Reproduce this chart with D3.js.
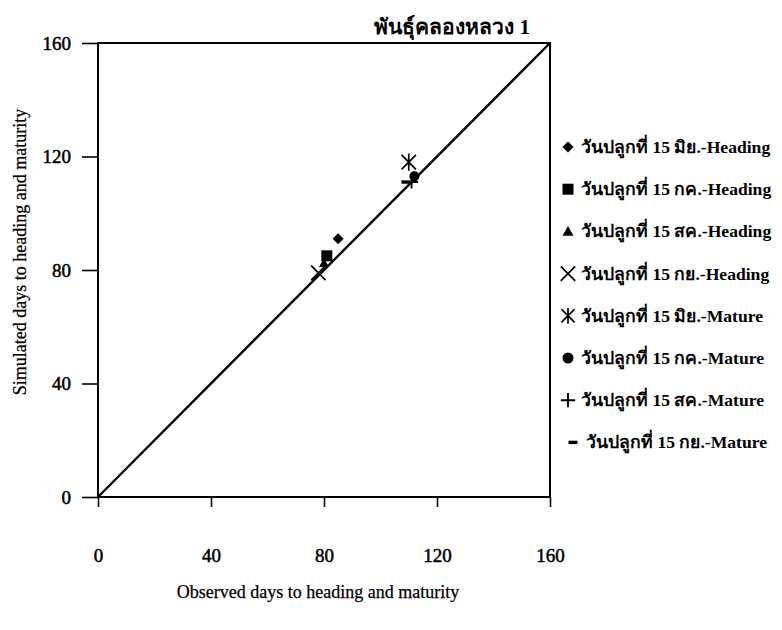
<!DOCTYPE html>
<html>
<head>
<meta charset="utf-8">
<script src="https://cdn.jsdelivr.net/npm/d3@7"></script>
<style>
  html, body { margin: 0; padding: 0; background: #fff; }
  svg { display: block; font-family: "Liberation Serif", "Times New Roman", serif; }
</style>
</head>
<body>
<svg id="chart" width="782" height="630"></svg>
<script>
// Planting-date series: observed vs simulated days to heading / maturity
const seriesNames = [
  "วันปลูกที่ 15 มิย.-Heading",
  "วันปลูกที่ 15 กค.-Heading",
  "วันปลูกที่ 15 สค.-Heading",
  "วันปลูกที่ 15 กย.-Heading",
  "วันปลูกที่ 15 มิย.-Mature",
  "วันปลูกที่ 15 กค.-Mature",
  "วันปลูกที่ 15 สค.-Mature",
  "วันปลูกที่ 15 กย.-Mature"
];
const observedDays  = [85, 81, 80, 78, 110, 112, 111, 109];
const simulatedDays = [91, 85, 82.5, 79, 118, 113, 111, 111];
const axisTicks = [0, 40, 80, 120, 160];
const varietyTitle = "พันธุ์คลองหลวง 1";

const markerKinds = ["diamond", "square", "triangle", "x", "asterisk", "circle", "plus", "dash"];

const FONT = "'Liberation Serif', 'Times New Roman', serif";
const svg = d3.select("#chart");
const plot = { left: 98, right: 550, top: 43, bottom: 497 };

const x = d3.scaleLinear().domain([0, 160]).range([plot.left, plot.right]);
const y = d3.scaleLinear().domain([0, 160]).range([plot.bottom, plot.top]);

// marker drawing: filled shapes and stroked line shapes
function drawMarker(g, kind, s) {
  const r = s / 2;
  if (kind === "diamond") {
    g.append("path").attr("d", `M0,${-r}L${r},0L0,${r}L${-r},0Z`).attr("fill", "#000");
  } else if (kind === "square") {
    g.append("path").attr("d", d3.symbol(d3.symbolSquare, s * s)()).attr("fill", "#000");
  } else if (kind === "triangle") {
    g.append("path").attr("d", `M0,${-r}L${r},${r * 0.8}L${-r},${r * 0.8}Z`).attr("fill", "#000");
  } else if (kind === "circle") {
    g.append("circle").attr("r", r).attr("fill", "#000");
  } else if (kind === "x") {
    const q = r * 1.2;
    g.append("path").attr("d", `M${-q},${-q}L${q},${q}M${-q},${q}L${q},${-q}`)
      .attr("stroke", "#000").attr("stroke-width", 1.7).attr("fill", "none");
  } else if (kind === "asterisk") {
    const q = r * 1.2;
    g.append("path").attr("d", `M${-q},${-q}L${q},${q}M${-q},${q}L${q},${-q}M0,${-q * 1.2}L0,${q * 1.2}`)
      .attr("stroke", "#000").attr("stroke-width", 1.7).attr("fill", "none");
  } else if (kind === "plus") {
    const q = r * 1.3;
    g.append("path").attr("d", `M${-q},0L${q},0M0,${-q}L0,${q}`)
      .attr("stroke", "#000").attr("stroke-width", 1.9).attr("fill", "none");
  } else if (kind === "dash") {
    g.append("path").attr("d", `M${-r},0L${r},0`)
      .attr("stroke", "#000").attr("stroke-width", 3.4).attr("fill", "none");
  }
}

// frame
svg.append("rect")
  .attr("x", plot.left).attr("y", plot.top)
  .attr("width", plot.right - plot.left).attr("height", plot.bottom - plot.top)
  .attr("fill", "none").attr("stroke", "#000").attr("stroke-width", 2);

// y axis
const yAxis = svg.append("g")
  .attr("transform", `translate(${plot.left},0)`)
  .call(d3.axisLeft(y).tickValues(axisTicks).tickSize(16).tickPadding(11).tickFormat(d3.format("d")));
yAxis.select(".domain").remove();
yAxis.selectAll("line").attr("stroke", "#000").attr("stroke-width", 1.6);
yAxis.selectAll("text").attr("font-size", 19)
  .attr("font-family", FONT).attr("fill", "#000")
  .attr("stroke", "#000").attr("stroke-width", 0.5);

// x axis
const xAxis = svg.append("g")
  .attr("transform", `translate(0,${plot.bottom})`)
  .call(d3.axisBottom(x).tickValues(axisTicks).tickSize(10).tickPadding(42).tickFormat(d3.format("d")));
xAxis.select(".domain").remove();
xAxis.selectAll("line").attr("stroke", "#000").attr("stroke-width", 1.6);
xAxis.selectAll("text").attr("font-size", 19)
  .attr("font-family", FONT).attr("fill", "#000")
  .attr("stroke", "#000").attr("stroke-width", 0.5);

// 1:1 line
svg.append("line")
  .attr("x1", x(0)).attr("y1", y(0)).attr("x2", x(160)).attr("y2", y(160))
  .attr("stroke", "#000").attr("stroke-width", 2.4);

// data points
const pts = svg.append("g");
seriesNames.forEach((name, i) => {
  const g = pts.append("g").attr("transform", `translate(${x(observedDays[i])},${y(simulatedDays[i])})`);
  const size = { diamond: 11, square: 11, triangle: 10, x: 12, asterisk: 12, circle: 10, plus: 10, dash: 9 }[markerKinds[i]];
  drawMarker(g, markerKinds[i], size);
});

// title
svg.append("text")
  .attr("x", 530).attr("y", 34)
  .attr("text-anchor", "end")
  .attr("font-size", 21).attr("font-weight", "bold")
  .attr("font-family", FONT)
  .text(varietyTitle);

// axis titles
svg.append("text")
  .attr("transform", `translate(26,252) rotate(-90)`)
  .attr("text-anchor", "middle")
  .attr("font-size", 18)
  .attr("font-family", FONT)
  .attr("stroke", "#000").attr("stroke-width", 0.25)
  .text("Simulated days to heading and maturity");

svg.append("text")
  .attr("x", 318).attr("y", 598)
  .attr("text-anchor", "middle")
  .attr("font-size", 18)
  .attr("font-family", FONT)
  .attr("stroke", "#000").attr("stroke-width", 0.25)
  .text("Observed days to heading and maturity");

// legend
const legend = svg.append("g");
seriesNames.forEach((name, i) => {
  const rowY = 147 + i * 42.2;
  const shift = markerKinds[i] === "dash" ? 5 : 0;
  const g = legend.append("g").attr("transform", `translate(${568 + shift},${rowY})`);
  const size = { diamond: 11, square: 11, triangle: 11, x: 12, asterisk: 11, circle: 11, plus: 11, dash: 9 }[markerKinds[i]];
  drawMarker(g, markerKinds[i], size);
  legend.append("text")
    .attr("x", 581 + shift).attr("y", rowY + 6)
    .attr("font-size", 17.6)
    .attr("font-weight", "bold")
    .attr("font-family", FONT)
    .text(name);
});
</script>
</body>
</html>
